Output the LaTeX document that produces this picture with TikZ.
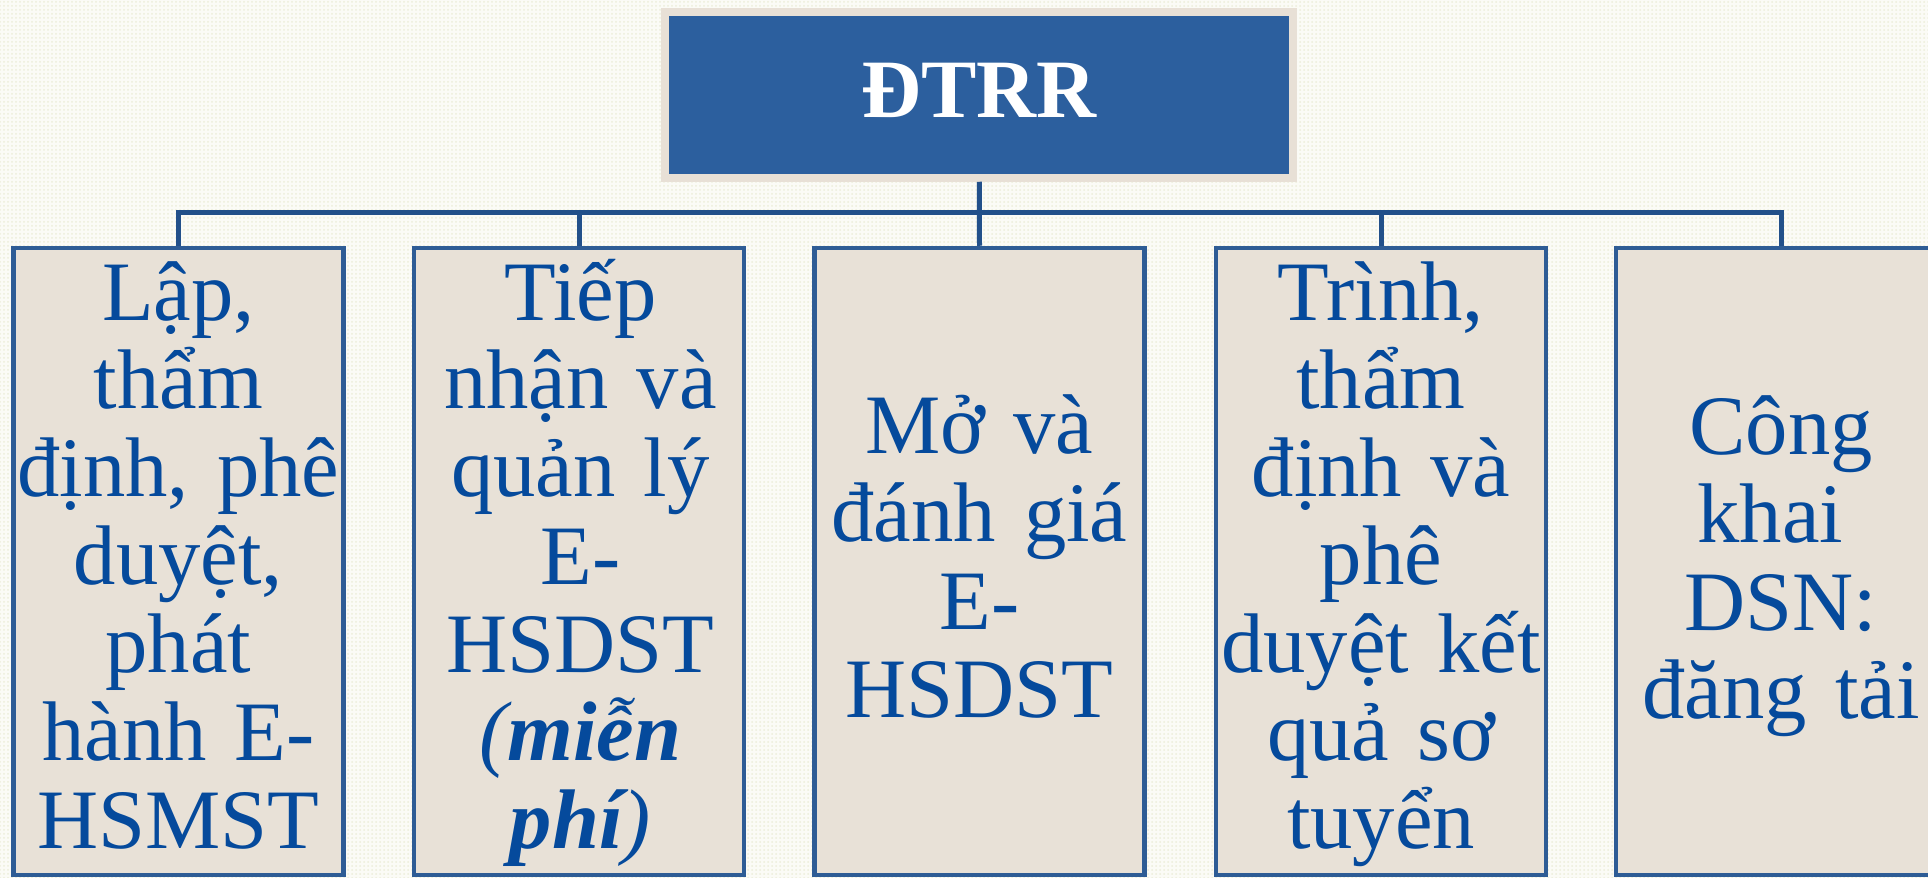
\documentclass[tikz,border=0pt]{standalone}
\usepackage{fontspec}
\setmainfont{Liberation Serif}[WordSpace=0.85]
\usetikzlibrary{patterns.meta,shadows}

\definecolor{paper}{HTML}{FBFBF6}
\definecolor{paperdot}{HTML}{ECEEDA}
\definecolor{headblue}{HTML}{2C5F9E}
\definecolor{headframe}{HTML}{E8E0D6}
\definecolor{linkblue}{HTML}{22508A}
\definecolor{boxedge}{HTML}{2E5C95}
\definecolor{boxfill}{HTML}{E8E1D7}
\definecolor{textblue}{HTML}{054A9C}

\tikzset{
  headbox/.style={draw=headframe, fill=headblue, line width=4pt,
    minimum width=314pt, minimum height=83pt, inner sep=0pt,
    drop shadow={shadow xshift=1pt, shadow yshift=-1.5pt, opacity=0.25}},
  headtext/.style={anchor=base, text=white, inner sep=0pt,
    font=\fontsize{41.5}{41.5}\selectfont\bfseries},
  stepbox/.style={draw=boxedge, fill=boxfill, line width=2.25pt,
    minimum width=165pt, minimum height=313.5pt, inner sep=0pt},
  steptext/.style={anchor=base, text=textblue, inner sep=0pt,
    text width=185pt, align=center,
    font=\fontsize{42.3}{44}\selectfont},
  link/.style={draw=linkblue, line width=2.5pt}
}

\begin{document}
\begin{tikzpicture}[x=0.5pt, y=-0.5pt]
\useasboundingbox (0,0) rectangle (1928,878);
\begin{scope}
\clip (0,0) rectangle (1928,878);

% dotted paper background
\fill[paper] (0,0) rectangle (1928,878);
\fill[pattern={Dots[distance=2pt, radius=0.5pt]}, pattern color=paperdot]
  (0,0) rectangle (1928,878);

% heading box
\node[headbox] (head) at (979.25,94.75) {};
\node[headtext] (headlabel) at (979,117) {ĐTRR};

% step boxes
\node[stepbox] (b1) at (178.5,561.5) {};
\node[stepbox] (b2) at (579,561.5) {};
\node[stepbox] (b3) at (979.5,561.5) {};
\node[stepbox] (b4) at (1381,561.5) {};
\node[stepbox] (b5) at (1781,561.5) {};

% connectors: trunk, bus and drops
\coordinate (bus) at (0,212);
\draw[link] (head.south) -- (b3.north);
\draw[link] (b1.north) -- (b1.north |- bus) -- (b5.north |- bus) -- (b5.north);
\draw[link] (b2.north) -- (b2.north |- bus);
\draw[link] (b4.north) -- (b4.north |- bus);

% step labels
\node[steptext] (t1) at (178.5,320) {Lập,\\thẩm\\định, phê\\duyệt,\\phát\\hành E-\\HSMST};
\node[steptext] (t2) at (580.5,320) {Tiếp\\nhận và\\quản lý\\E-\\HSDST\\{\itshape(\bfseries miễn}\\{\itshape\bfseries phí\mdseries)}};
\node[steptext] (t3) at (979.5,453) {Mở và\\đánh giá\\E-\\HSDST};
\node[steptext] (t4) at (1381,320) {Trình,\\thẩm\\định và\\phê\\duyệt kết\\quả sơ\\tuyển};
\node[steptext] (t5) at (1781,454) {Công\\khai\kern0.25em\\DSN:\\đăng tải};
\end{scope}
\end{tikzpicture}
\end{document}
